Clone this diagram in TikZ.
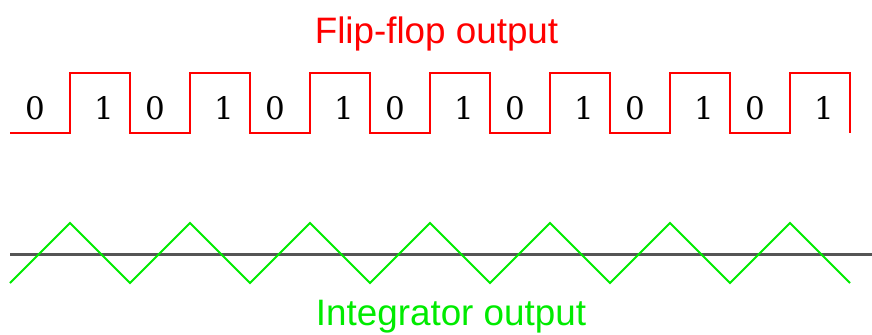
\documentclass[tikz,border=0pt]{standalone}
\usepackage{fontspec}
\setmainfont{DejaVu Serif}
\newfontfamily\labelfont{Liberation Sans}
\begin{document}
\begin{tikzpicture}[x=1bp,y=-1bp,
  sq/.style={draw={rgb,255:red,255;green,0;blue,0}, line width=2bp},
  tri/.style={draw={rgb,255:red,0;green,235;blue,0}, line width=2bp},
  axis/.style={draw={rgb,255:red,85;green,85;blue,85}, line width=3bp},
  bit/.style={inner sep=0pt, anchor=base, font=\fontsize{31bp}{34bp}\selectfont},
  title/.style={inner sep=0pt, anchor=base, font=\labelfont\fontsize{36.8bp}{40bp}\selectfont}]
\useasboundingbox (0,0) rectangle (872,334);
% square wave
\draw[sq] (10,133) -- (70,133) -- (70,73) -- (130,73) -- (130,133) -- (190,133) -- (190,73) -- (250,73) -- (250,133)
  -- (310,133) -- (310,73) -- (370,73) -- (370,133) -- (430,133) -- (430,73) -- (490,73) -- (490,133)
  -- (550,133) -- (550,73) -- (610,73) -- (610,133) -- (670,133) -- (670,73) -- (730,73) -- (730,133)
  -- (790,133) -- (790,73) -- (850,73) -- (850,133);
% bits
\foreach \i in {0,...,6} {
  \node[bit] (z\i) at (35+120*\i,119) {0};
  \node[bit] (o\i) at (104+120*\i,119) {1};
}
% axis
\draw[axis] (10,254) -- (872,254);
% triangle wave
\draw[tri] (10,283) -- (70,223) -- (130,283) -- (190,223) -- (250,283) -- (310,223) -- (370,283) -- (430,223)
  -- (490,283) -- (550,223) -- (610,283) -- (670,223) -- (730,283) -- (790,223) -- (850,283);
% titles
\node[title, text={rgb,255:red,255;green,0;blue,0}] (ff) at (436.5,43) {Flip-flop output};
\node[title, text={rgb,255:red,0;green,235;blue,0}] (int) at (451,325) {Integrator output};
\end{tikzpicture}
\end{document}
